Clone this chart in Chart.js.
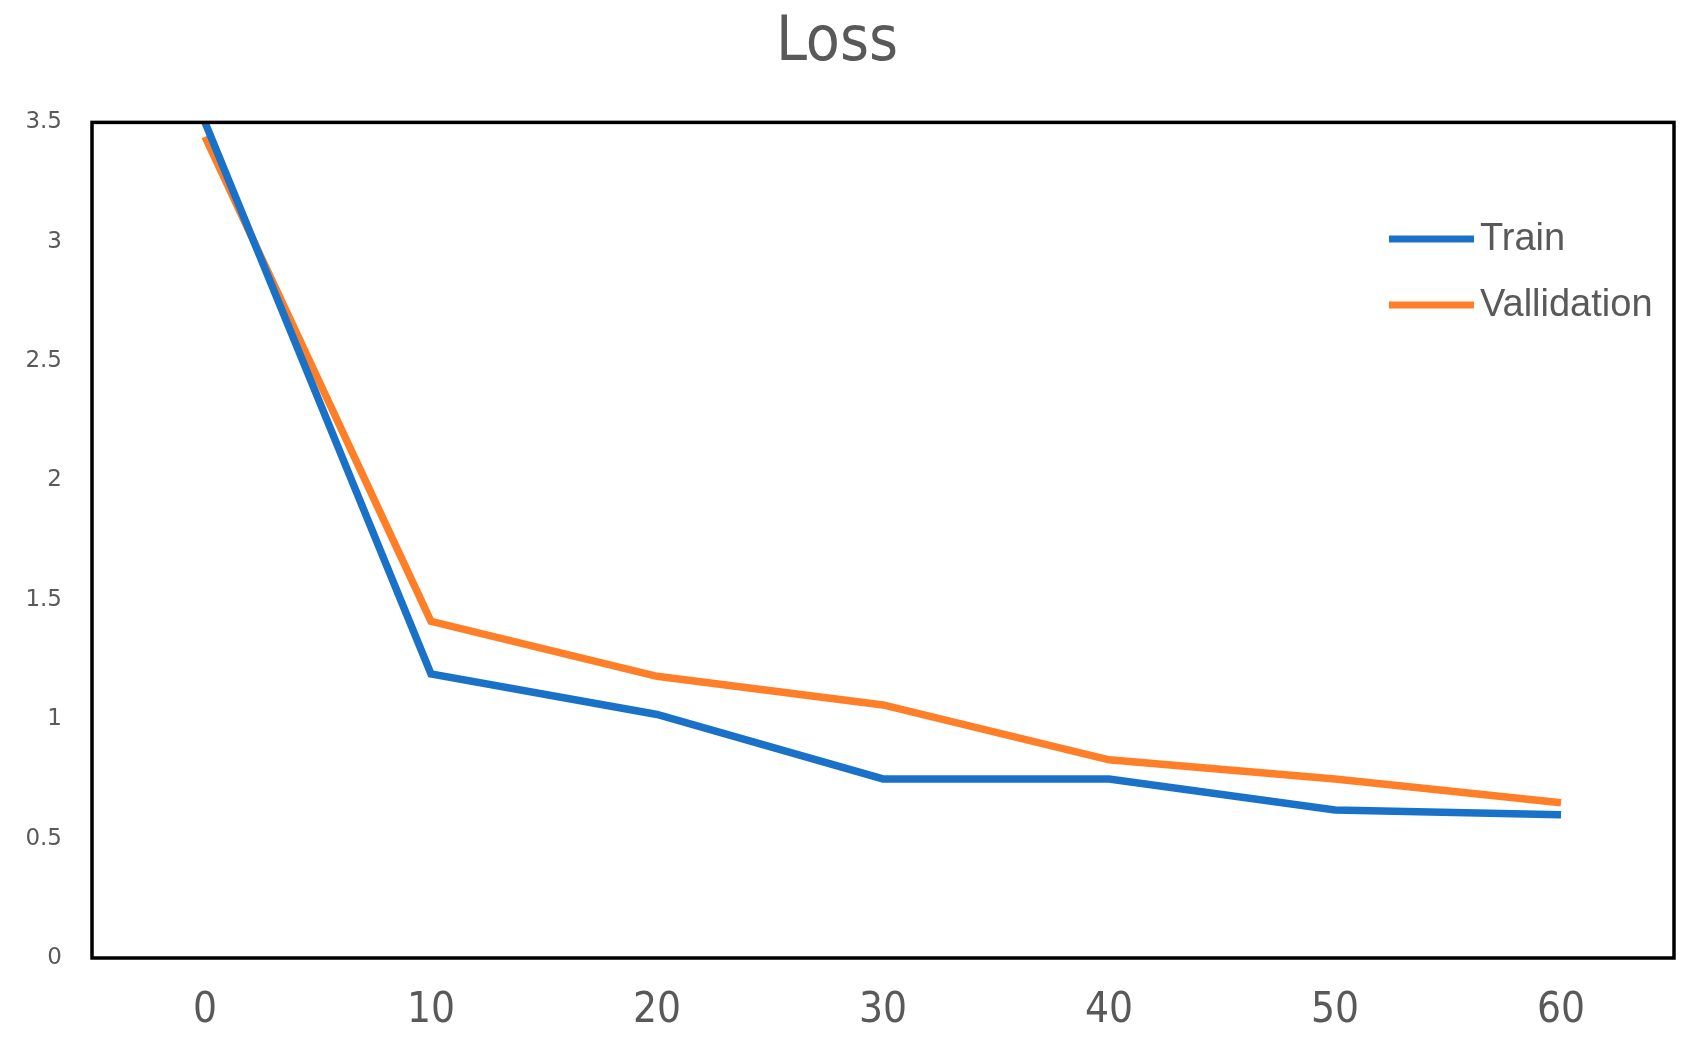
<!DOCTYPE html>
<html>
<head>
<meta charset="utf-8">
<script src="https://cdn.jsdelivr.net/npm/chart.js@4.4.0/dist/chart.umd.min.js"></script>
<style>
    html, body { margin: 0; padding: 0; background: #ffffff; }
    #wrap { width: 1698px; height: 1054px; }
</style>
</head>
<body>
<div id="wrap"><canvas id="lossChart"></canvas></div>
<script>
// valores
const epochs = [0, 10, 20, 30, 40, 50, 60];
const trainLoss = [3.5, 1.19, 1.02, 0.75, 0.75, 0.62, 0.60];
const validationLoss = [3.44, 1.41, 1.18, 1.06, 0.83, 0.75, 0.65];
const yTicks = [0, 0.5, 1, 1.5, 2, 2.5, 3, 3.5];
const xTicks = [0, 10, 20, 30, 40, 50, 60];

const textColor = '#595959';
const narrowFont = "'Liberation Sans Narrow', 'Arial Narrow', 'DejaVu Sans Condensed', 'Liberation Sans', sans-serif";

function toPoints(values) {
    return epochs.map((e, i) => ({ x: e, y: values[i] }));
}

// moldura preta em volta da área do gráfico
const framePlugin = {
    id: 'frame',
    afterDraw(chart) {
        const { ctx, chartArea: a } = chart;
        ctx.save();
        ctx.strokeStyle = '#000000';
        ctx.lineWidth = 3.5;
        ctx.strokeRect(a.left, a.top, a.right - a.left, a.bottom - a.top);
        ctx.restore();
    }
};

// legenda dentro do gráfico, canto superior direito
const insideLegend = {
    id: 'insideLegend',
    afterDraw(chart) {
        const ctx = chart.ctx;
        ctx.save();
        ctx.font = "38px 'Liberation Sans', Arial, sans-serif";
        ctx.textBaseline = 'middle';
        chart.data.datasets.forEach((ds, i) => {
            const y = 239 + i * 66;
            ctx.strokeStyle = ds.borderColor;
            ctx.lineWidth = 7;
            ctx.beginPath();
            ctx.moveTo(1389, y);
            ctx.lineTo(1474, y);
            ctx.stroke();
            ctx.fillStyle = textColor;
            ctx.fillText(ds.label, 1480, y + 1);
        });
        ctx.restore();
    }
};

new Chart(document.getElementById('lossChart'), {
    type: 'line',
    data: {
        datasets: [{
            label: 'Train',
            data: toPoints(trainLoss),
            borderColor: '#1a72c8',
            borderWidth: 7.5,
            pointRadius: 0,
            tension: 0
        }, {
            label: 'Vallidation',
            data: toPoints(validationLoss),
            borderColor: '#fe7f27',
            borderWidth: 7.5,
            pointRadius: 0,
            tension: 0
        }]
    },
    options: {
        responsive: true,
        maintainAspectRatio: false,
        animation: false,
        layout: { padding: { left: 0, right: 24, top: 0, bottom: 0 } },
        scales: {
            x: {
                type: 'linear',
                min: -5,
                max: 65,
                grid: { display: false },
                border: { display: false },
                afterBuildTicks: (scale) => { scale.ticks = xTicks.map(v => ({ value: v })); },
                afterFit: (scale) => { scale.height = 96; },
                ticks: {
                    color: textColor,
                    font: { family: narrowFont, size: 42 },
                    padding: 20,
                    maxRotation: 0
                }
            },
            y: {
                min: 0,
                max: 3.5,
                grid: { display: false },
                border: { display: false },
                afterBuildTicks: (scale) => { scale.ticks = yTicks.map(v => ({ value: v })); },
                afterFit: (scale) => { scale.width = 92; },
                ticks: {
                    color: textColor,
                    font: { family: "'DejaVu Sans', sans-serif", size: 23 },
                    padding: 22,
                    callback: (v) => String(v)
                }
            }
        },
        plugins: {
            legend: { display: false },
            tooltip: { enabled: false },
            title: {
                display: true,
                text: 'Loss',
                color: textColor,
                font: { family: narrowFont, size: 62, weight: 'normal' },
                padding: { top: 7, bottom: 41 }
            }
        }
    },
    plugins: [framePlugin, insideLegend]
});
</script>
</body>
</html>
